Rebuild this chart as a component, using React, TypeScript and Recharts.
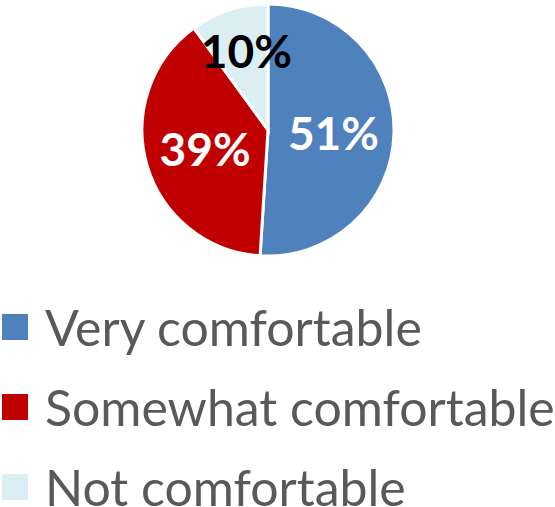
import React from 'react';
import { PieChart, Pie, Cell, Legend } from 'recharts';

const categories = ['Very comfortable', 'Somewhat comfortable', 'Not comfortable'];
const values = [51, 39, 10];
const colors = ['#4F81BD', '#C00000', '#DBEEF4'];
const labelColors = ['#FFFFFF', '#FFFFFF', '#000000'];
const labelRadius = [0.52, 0.52, 0.66];

const data = categories.map((name, i) => ({ name, value: values[i] }));

const RAD = Math.PI / 180;

const renderLabel = (props: any) => {
  const { cx, cy, midAngle, outerRadius, index, value } = props;
  const r = outerRadius * labelRadius[index];
  const x = cx + r * Math.cos(-midAngle * RAD);
  const y = cy + r * Math.sin(-midAngle * RAD);
  return (
    <text
      x={x + (index === 2 ? 4 : 0)}
      y={y}
      fill={labelColors[index]}
      textAnchor="middle"
      dominantBaseline="central"
      fontFamily="Lato, 'Open Sans', sans-serif"
      fontWeight={700}
      fontSize={46}
    >
      {value}%
    </text>
  );
};

const renderLegend = () => (
  <div style={{ fontFamily: "Lato, 'Open Sans', sans-serif" }}>
    {categories.map((c, i) => (
      <div
        key={c}
        style={{ display: 'flex', alignItems: 'center', height: 80, position: 'relative' }}
      >
        <div style={{ width: 26, height: 26, background: colors[i], marginLeft: 2, marginRight: 17, flexShrink: 0 }} />
        <span style={{ fontSize: 50, color: '#595959', lineHeight: '40px', whiteSpace: 'nowrap' }}>{c}</span>
      </div>
    ))}
  </div>
);

export default function App() {
  return (
    <div style={{ position: 'absolute', left: 0, top: 0, width: 555, height: 507, background: '#fff', overflow: 'hidden' }}>
      <PieChart width={555} height={507} margin={{ top: 0, right: 0, bottom: 0, left: 0 }}>
        <Pie
          data={data}
          dataKey="value"
          cx={268}
          cy={130}
          outerRadius={126}
          startAngle={90}
          endAngle={-270}
          stroke="#FFFFFF"
          strokeWidth={3}
          isAnimationActive={false}
          labelLine={false}
          label={renderLabel}
        >
          {data.map((d, i) => (
            <Cell key={d.name} fill={colors[i]} />
          ))}
        </Pie>
        <Legend
          content={renderLegend}
          wrapperStyle={{ position: 'absolute', left: 0, top: 287, width: 555 }}
        />
      </PieChart>
    </div>
  );
}
